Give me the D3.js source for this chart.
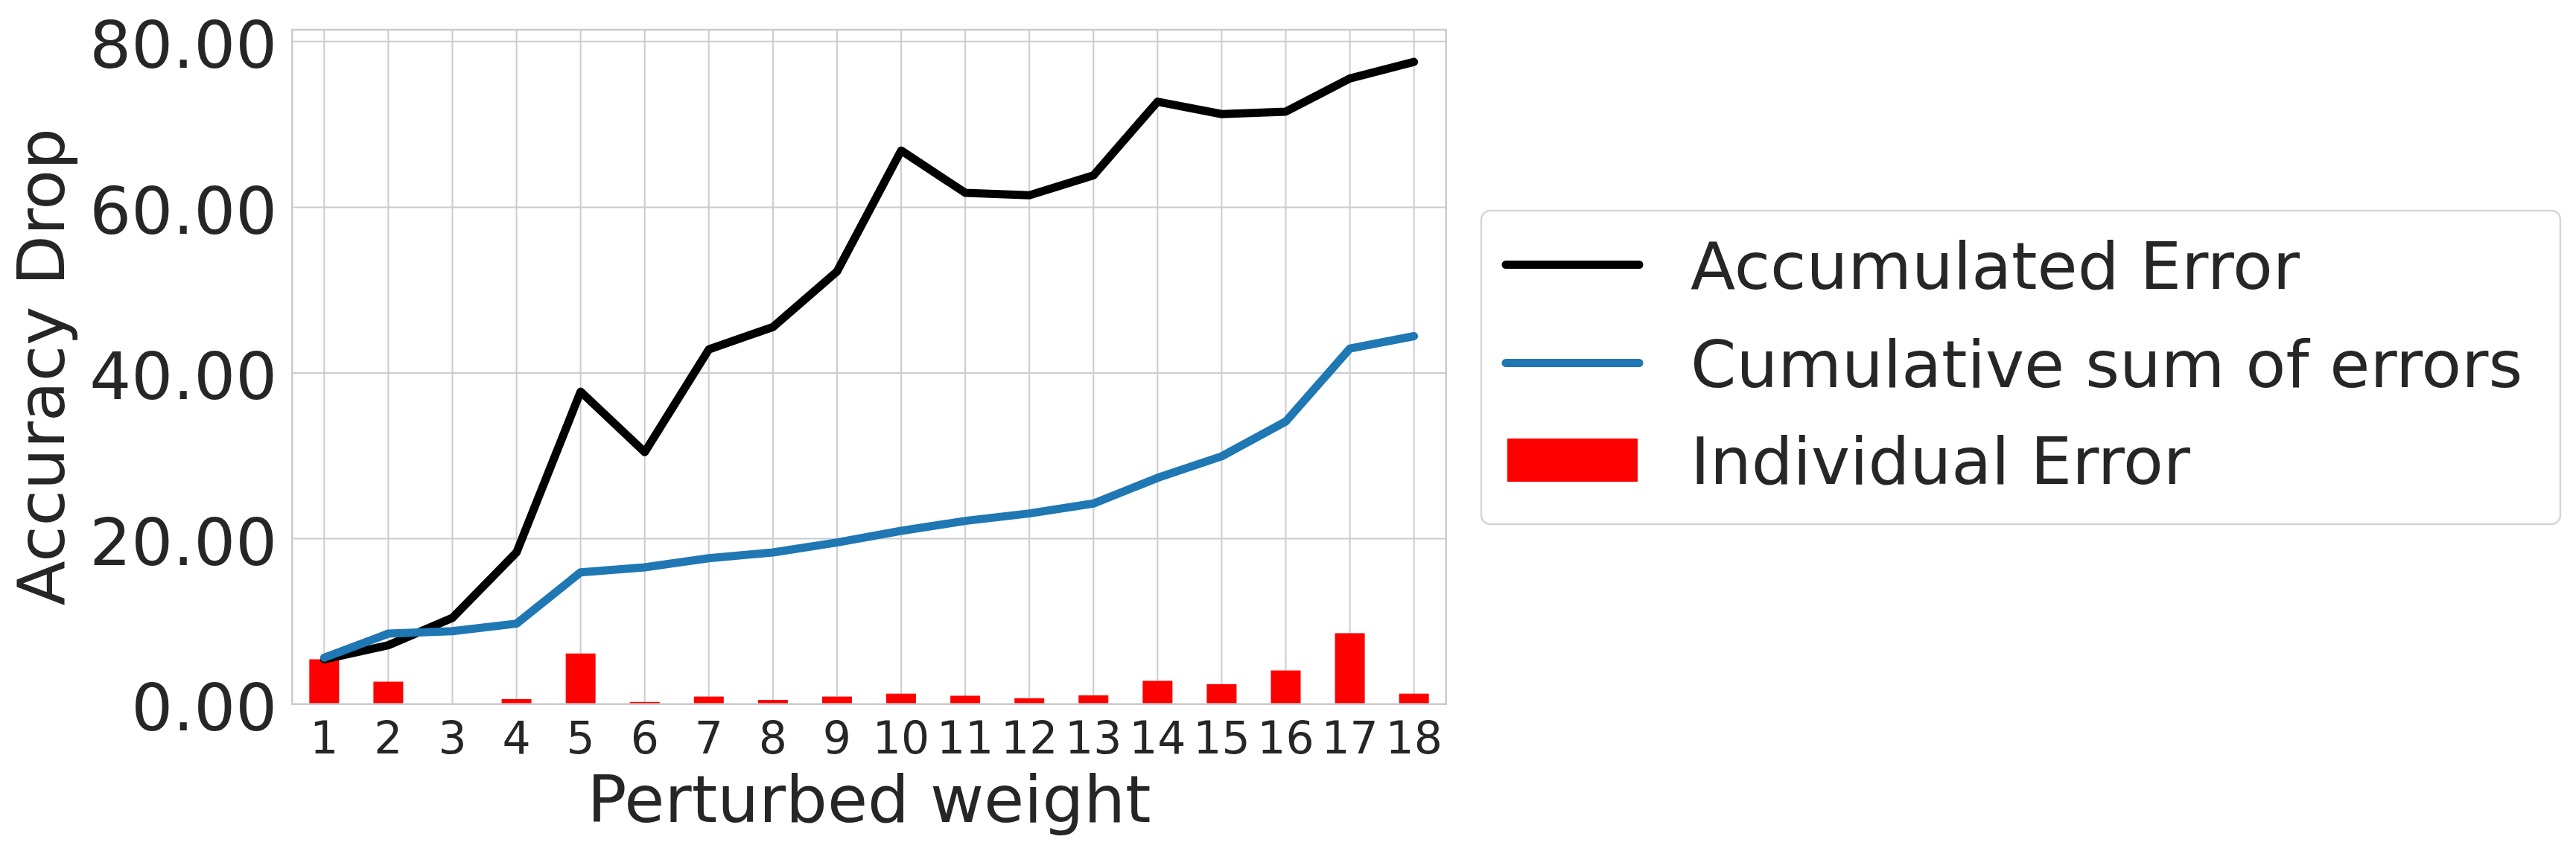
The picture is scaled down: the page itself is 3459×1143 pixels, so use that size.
<!DOCTYPE html>
<meta charset="utf-8"/>
<style>

    body {
        margin: 0;
        background: #fff;
    }

    text {
        font-family: "DejaVu Sans", sans-serif;
        fill: #262626;
    }

    .grid line {
        stroke: #cccccc;
        stroke-width: 2px;
    }

    .grid .domain {
        display: none;
    }

</style>
<body>
<svg width="3459" height="1143"></svg>
</body>
<script src="https://cdnjs.cloudflare.com/ajax/libs/d3/7.8.5/d3.min.js"></script>
<script>

  // values
  var weights = [1, 2, 3, 4, 5, 6, 7, 8, 9, 10, 11, 12, 13, 14, 15, 16, 17, 18]
  var accumulatedError = [5.4, 7.1, 10.4, 18.3, 37.7, 30.4, 42.8, 45.5, 52.2, 66.8, 61.7, 61.4,
    63.8, 72.7, 71.2, 71.5, 75.5, 77.5]
  var cumulativeSum = [5.6, 8.5, 8.8, 9.7, 15.9, 16.5, 17.6, 18.3, 19.5, 20.9, 22.1, 23.0,
    24.2, 27.3, 29.9, 34.1, 42.9, 44.4]
  var individualError = [5.4, 2.7, 0.05, 0.6, 6.1, 0.25, 0.9, 0.5, 0.9, 1.25, 1.0, 0.7,
    1.05, 2.8, 2.4, 4.05, 8.55, 1.25]
  var yTicks = [0, 20, 40, 60, 80]
  var legendLabels = ["Accumulated Error", "Cumulative sum of errors", "Individual Error"]

  var svg = d3.select("svg")

  var plot = { left: 392.3, right: 1941.7, top: 40, bottom: 945.6 }

  var x = d3.scaleBand()
    .domain(weights)
    .range([plot.left, plot.right])

  // matplotlib-ish 5% headroom above the highest point
  var y = d3.scaleLinear()
    .domain([0, d3.max(accumulatedError) * 1.05])
    .range([plot.bottom, plot.top])

  var bw = x.bandwidth()
  var cx = function (w) { return x(w) + bw / 2 }

  // grid + tick labels
  svg.append("g")
    .attr("class", "grid")
    .attr("transform", "translate(0," + plot.bottom + ")")
    .call(d3.axisBottom(x)
      .tickSize(-(plot.bottom - plot.top))
      .tickPadding(24))
    .call(function (g) {
      g.selectAll("text").style("font-size", "60px")
    })

  svg.append("g")
    .attr("class", "grid")
    .attr("transform", "translate(" + plot.left + ",0)")
    .call(d3.axisLeft(y)
      .tickValues(yTicks)
      .tickFormat(d3.format(".2f"))
      .tickSize(-(plot.right - plot.left))
      .tickPadding(20))
    .call(function (g) {
      g.selectAll("text").style("font-size", "88px").attr("dy", "0.4em")
    })

  // bars
  svg.append("g")
    .selectAll("rect")
    .data(weights)
    .enter().append("rect")
    .attr("x", function (d) { return cx(d) - bw * 0.465 / 2 })
    .attr("width", bw * 0.465)
    .attr("y", function (d, i) { return y(individualError[i]) })
    .attr("height", function (d, i) { return plot.bottom - y(individualError[i]) })
    .attr("fill", "#ff0000")

  var line = d3.line()
    .x(function (d, i) { return cx(weights[i]) })
    .y(function (d) { return y(d) })

  svg.append("path")
    .datum(accumulatedError)
    .attr("d", line)
    .attr("fill", "none")
    .attr("stroke", "#000")
    .attr("stroke-width", 11)
    .attr("stroke-linejoin", "round")
    .attr("stroke-linecap", "round")

  svg.append("path")
    .datum(cumulativeSum)
    .attr("d", line)
    .attr("fill", "none")
    .attr("stroke", "#1f77b4")
    .attr("stroke-width", 11)
    .attr("stroke-linejoin", "round")
    .attr("stroke-linecap", "round")

  // frame (spines)
  svg.append("rect")
    .attr("x", plot.left)
    .attr("y", plot.top)
    .attr("width", plot.right - plot.left)
    .attr("height", plot.bottom - plot.top)
    .attr("fill", "none")
    .attr("stroke", "#cccccc")
    .attr("stroke-width", 2.5)

  // axis labels
  svg.append("text")
    .attr("x", (plot.left + plot.right) / 2)
    .attr("y", 1104)
    .attr("text-anchor", "middle")
    .style("font-size", "88px")
    .text("Perturbed weight")

  svg.append("text")
    .attr("transform", "translate(86," + (plot.top + plot.bottom) / 2 + ") rotate(-90)")
    .attr("text-anchor", "middle")
    .style("font-size", "88px")
    .text("Accuracy Drop")

  // legend
  var legend = svg.append("g")

  legend.append("rect")
    .attr("x", 1989)
    .attr("y", 283)
    .attr("width", 1449)
    .attr("height", 421)
    .attr("rx", 12)
    .attr("fill", "#fff")
    .attr("stroke", "#d6d6d6")
    .attr("stroke-width", 2.5)

  var rowY = [355.5, 487.5, 618]

  legend.append("line")
    .attr("x1", 2022).attr("x2", 2201)
    .attr("y1", rowY[0]).attr("y2", rowY[0])
    .attr("stroke", "#000").attr("stroke-width", 11).attr("stroke-linecap", "round")

  legend.append("line")
    .attr("x1", 2022).attr("x2", 2201)
    .attr("y1", rowY[1]).attr("y2", rowY[1])
    .attr("stroke", "#1f77b4").attr("stroke-width", 11).attr("stroke-linecap", "round")

  legend.append("rect")
    .attr("x", 2024).attr("y", rowY[2] - 29)
    .attr("width", 175).attr("height", 58)
    .attr("fill", "#ff0000")

  legend.selectAll("text")
    .data(legendLabels)
    .enter().append("text")
    .attr("x", 2270)
    .attr("y", function (d, i) { return rowY[i] + 32 })
    .style("font-size", "88px")
    .text(function (d) { return d })

</script>
